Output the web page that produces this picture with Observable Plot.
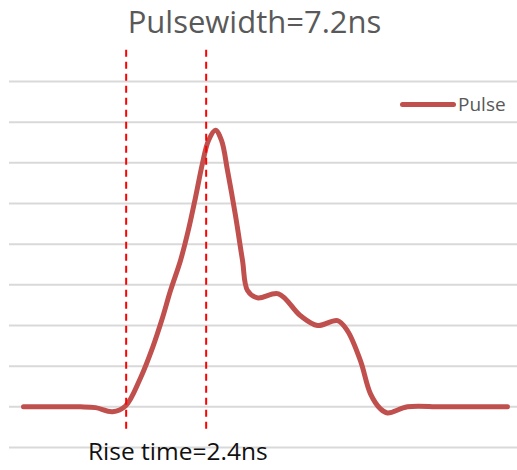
<!DOCTYPE html>
<html>
<head>
<meta charset="utf-8">
<script src="https://cdn.jsdelivr.net/npm/d3@7"></script>
<script src="https://cdn.jsdelivr.net/npm/@observablehq/plot@0.6"></script>
<style>
  body { margin: 0; background: #fff; }
  #wrap { position: relative; width: 517px; height: 470px; font-family: "Open Sans", sans-serif; }
  #title { position: absolute; left: 0; width: 509px; top: 0px; line-height: 43px; text-align: center; font-size: 31px; color: #595959; }
  #caption { position: absolute; left: 88px; top: 436px; line-height: 30px; font-size: 24.5px; color: #111; }
  #legend { position: absolute; left: 400px; top: 91px; font-size: 19px; color: #595959; display: flex; align-items: center; }
  #legend .sw { width: 56px; height: 5px; background: #C0504D; border-radius: 3px; margin-right: 2px; }
  #chart { position: absolute; left: 0; top: 0; }
</style>
</head>
<body>
<div id="wrap">
  <div id="chart"></div>
  <div id="title">Pulsewidth=7.2ns</div>
  <div id="legend"><div class="sw"></div><span>Pulse</span></div>
  <div id="caption">Rise time=2.4ns</div>
</div>
<script>
// time in ns
const time = [0, 0.85, 1.71, 2.16, 2.67, 3.06, 3.51, 3.87, 4.17, 4.41, 4.71, 4.95, 5.16, 5.37, 5.55, 5.76, 5.94, 6.12, 6.36, 6.57, 6.72, 7.02, 7.65, 8.31, 8.82, 9.42, 9.72, 10.11, 10.41, 10.71, 10.92, 11.52, 12.5, 13.5, 14.52];
const pulse = [0, 0, 0, -0.02, -0.12, 0.02, 0.71, 1.45, 2.19, 2.86, 3.60, 4.36, 5.15, 5.99, 6.55, 6.80, 6.55, 5.81, 4.70, 3.60, 2.86, 2.68, 2.78, 2.24, 2.00, 2.12, 1.87, 1.13, 0.32, -0.05, -0.15, 0, 0, 0, 0];
const gridValues = [-1, 0, 1, 2, 3, 4, 5, 6, 7, 8];
const markerTimes = [3.08, 5.48]; // rise time = 2.4 ns
const markerTop = 8.77, markerBottom = -0.59;

const data = time.map((t, i) => ({t, v: pulse[i]}));

const chart = Plot.plot({
  width: 517,
  height: 470,
  marginLeft: 9,
  marginRight: 0,
  marginTop: 81,
  marginBottom: 23,
  x: {domain: [-0.42, 14.82], axis: null},
  y: {domain: [-1, 8], axis: null},
  marks: [
    Plot.ruleY(gridValues, {stroke: "#d9d9d9", strokeWidth: 2}),
    Plot.line(data, {x: "t", y: "v", curve: "catmull-rom", stroke: "#C0504D", strokeWidth: 5, strokeLinecap: "round", strokeLinejoin: "round"}),
    Plot.ruleX(markerTimes, {y1: markerTop, y2: markerBottom, stroke: "#ff0000", strokeWidth: 2, strokeDasharray: "7,5"})
  ]
});
document.getElementById("chart").appendChild(chart);
</script>
</body>
</html>
